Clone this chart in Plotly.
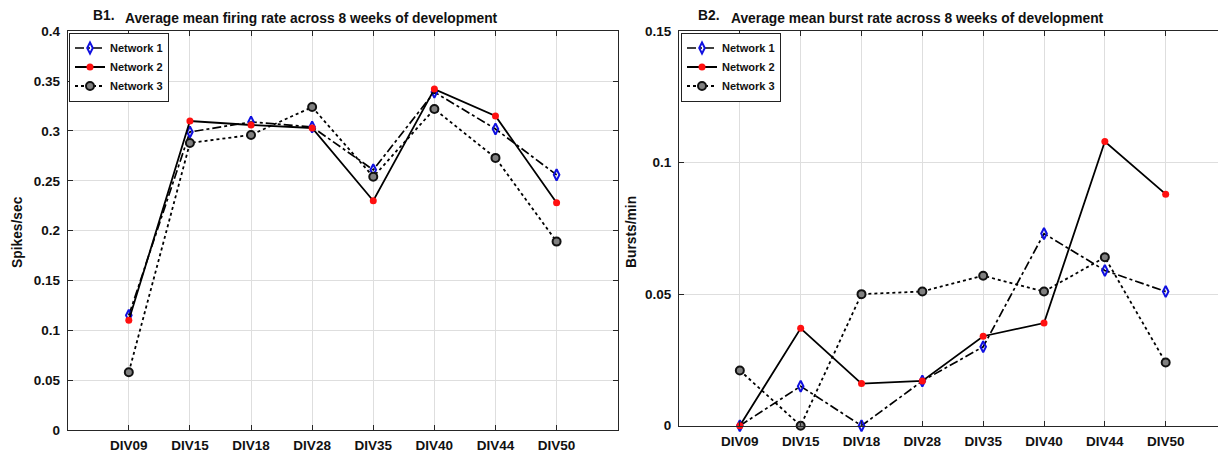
import plotly.graph_objects as go

# Recording days (x categories)
days = ["DIV09", "DIV15", "DIV18", "DIV28", "DIV35", "DIV40", "DIV44", "DIV50"]
series_names = ["Network 1", "Network 2", "Network 3"]

# B1: average mean firing rate (spikes/sec)
firing_net1 = [0.115, 0.299, 0.309, 0.304, 0.261, 0.339, 0.302, 0.256]
firing_net2 = [0.110, 0.310, 0.306, 0.303, 0.230, 0.342, 0.315, 0.228]
firing_net3 = [0.058, 0.288, 0.296, 0.324, 0.254, 0.322, 0.273, 0.189]

# B2: average mean burst rate (bursts/min)
burst_net1 = [0.0, 0.015, 0.0, 0.017, 0.030, 0.073, 0.059, 0.051]
burst_net2 = [0.0, 0.037, 0.016, 0.017, 0.034, 0.039, 0.108, 0.088]
burst_net3 = [0.021, 0.0, 0.050, 0.051, 0.057, 0.051, 0.064, 0.024]

firing_ticks = [0, 0.05, 0.1, 0.15, 0.2, 0.25, 0.3, 0.35, 0.4]
burst_ticks = [0, 0.05, 0.1, 0.15]

W, H = 1218, 456
FONT = "Liberation Sans, Arial, Helvetica, sans-serif"
AXIS_COL = "#262626"
GRID_COL = "#dedede"

xpos = list(range(1, len(days) + 1))

styles = [
    dict(line=dict(color="black", width=1.7, dash="dashdot"),
         marker=dict(symbol="diamond-tall-open", size=8, color="#1010e0",
                     line=dict(width=2, color="#1010e0"))),
    dict(line=dict(color="black", width=1.8, dash="solid"),
         marker=dict(symbol="circle", size=7, color="#ff1010",
                     line=dict(width=0))),
    dict(line=dict(color="black", width=1.8, dash="dot"),
         marker=dict(symbol="circle", size=8, color="#808080",
                     line=dict(width=2, color="#111111"))),
]

fig = go.Figure()

for name, ys, st in zip(series_names, [firing_net1, firing_net2, firing_net3], styles):
    fig.add_trace(go.Scatter(x=xpos, y=ys, name=name, mode="lines+markers",
                             line=st["line"], marker=st["marker"],
                             xaxis="x", yaxis="y", legend="legend",
                             cliponaxis=False))

for name, ys, st in zip(series_names, [burst_net1, burst_net2, burst_net3], styles):
    fig.add_trace(go.Scatter(x=xpos, y=ys, name=name, mode="lines+markers",
                             line=st["line"], marker=st["marker"],
                             xaxis="x2", yaxis="y2", legend="legend2",
                             cliponaxis=False))


def px_x(v):
    return v / W


def px_y(v):
    return 1 - v / H


tickfont = dict(family=FONT, size=13.5, color="#111111", weight="bold")

common_x = dict(tickmode="array", tickvals=xpos, ticktext=days,
                showgrid=True, gridcolor=GRID_COL, gridwidth=1,
                showline=True, linecolor=AXIS_COL, linewidth=1,
                mirror="ticks", ticks="inside", ticklen=5, tickcolor=AXIS_COL,
                tickfont=tickfont, zeroline=False, ticklabelstandoff=3,
                automargin=False)

legend_common = dict(font=dict(family=FONT, size=11, color="#111111", weight="bold"),
                     bgcolor="white", bordercolor="#222222", borderwidth=1,
                     xanchor="left", yanchor="top", tracegroupgap=0,
                     itemwidth=30)

fig.update_layout(
    width=W, height=H,
    margin=dict(l=0, r=0, t=0, b=0, pad=0, autoexpand=False),
    paper_bgcolor="white", plot_bgcolor="white",
    font=dict(family=FONT, color="#111111"),
    xaxis=dict(domain=[px_x(67.7), px_x(617.7)], range=[0, 9], anchor="y", **common_x),
    yaxis=dict(domain=[px_y(430), px_y(31.3)], range=[0, 0.4], anchor="x",
               tickvals=firing_ticks, ticktext=[f"{t:g}" for t in firing_ticks],
               showgrid=True, gridcolor=GRID_COL, showline=True, linecolor=AXIS_COL,
               linewidth=1, mirror="ticks", ticks="inside", ticklen=5,
               tickcolor=AXIS_COL, tickfont=tickfont, zeroline=False,
               ticklabelstandoff=4, automargin=False),
    xaxis2=dict(domain=[px_x(679), 1.0], range=[0, 8.86], anchor="y2", **common_x),
    yaxis2=dict(domain=[px_y(425.7), px_y(31)], range=[0, 0.15], anchor="x2",
                tickvals=burst_ticks, ticktext=[f"{t:g}" for t in burst_ticks],
                showgrid=True, gridcolor=GRID_COL, showline=True, linecolor=AXIS_COL,
                linewidth=1, mirror=False, ticks="inside", ticklen=5,
                tickcolor=AXIS_COL, tickfont=tickfont, zeroline=False,
                ticklabelstandoff=4, automargin=False),
    legend=dict(x=px_x(69), y=px_y(32.5), **legend_common),
    legend2=dict(x=px_x(681), y=px_y(32.5), **legend_common),
    showlegend=True,
)

# Panel titles and axis labels
title_font = dict(family=FONT, size=13.8, color="#111111")
annotations = [
    dict(text="<b>B1.</b>", x=px_x(91), y=px_y(15), xanchor="left", yanchor="middle"),
    dict(text="<b>Average mean firing rate across 8 weeks of development</b>",
         x=px_x(123), y=px_y(18.5), xanchor="left", yanchor="middle"),
    dict(text="<b>B2.</b>", x=px_x(696), y=px_y(15), xanchor="left", yanchor="middle"),
    dict(text="<b>Average mean burst rate across 8 weeks of development</b>",
         x=px_x(729), y=px_y(18.5), xanchor="left", yanchor="middle"),
    dict(text="<b>Spikes/sec</b>", x=px_x(17), y=px_y(232), xanchor="center",
         yanchor="middle", textangle=-90),
    dict(text="<b>Bursts/min</b>", x=px_x(631), y=px_y(232), xanchor="center",
         yanchor="middle", textangle=-90),
]
for a in annotations:
    fig.add_annotation(xref="paper", yref="paper", showarrow=False,
                       font=title_font, **a)

fig.write_html("out.html")
